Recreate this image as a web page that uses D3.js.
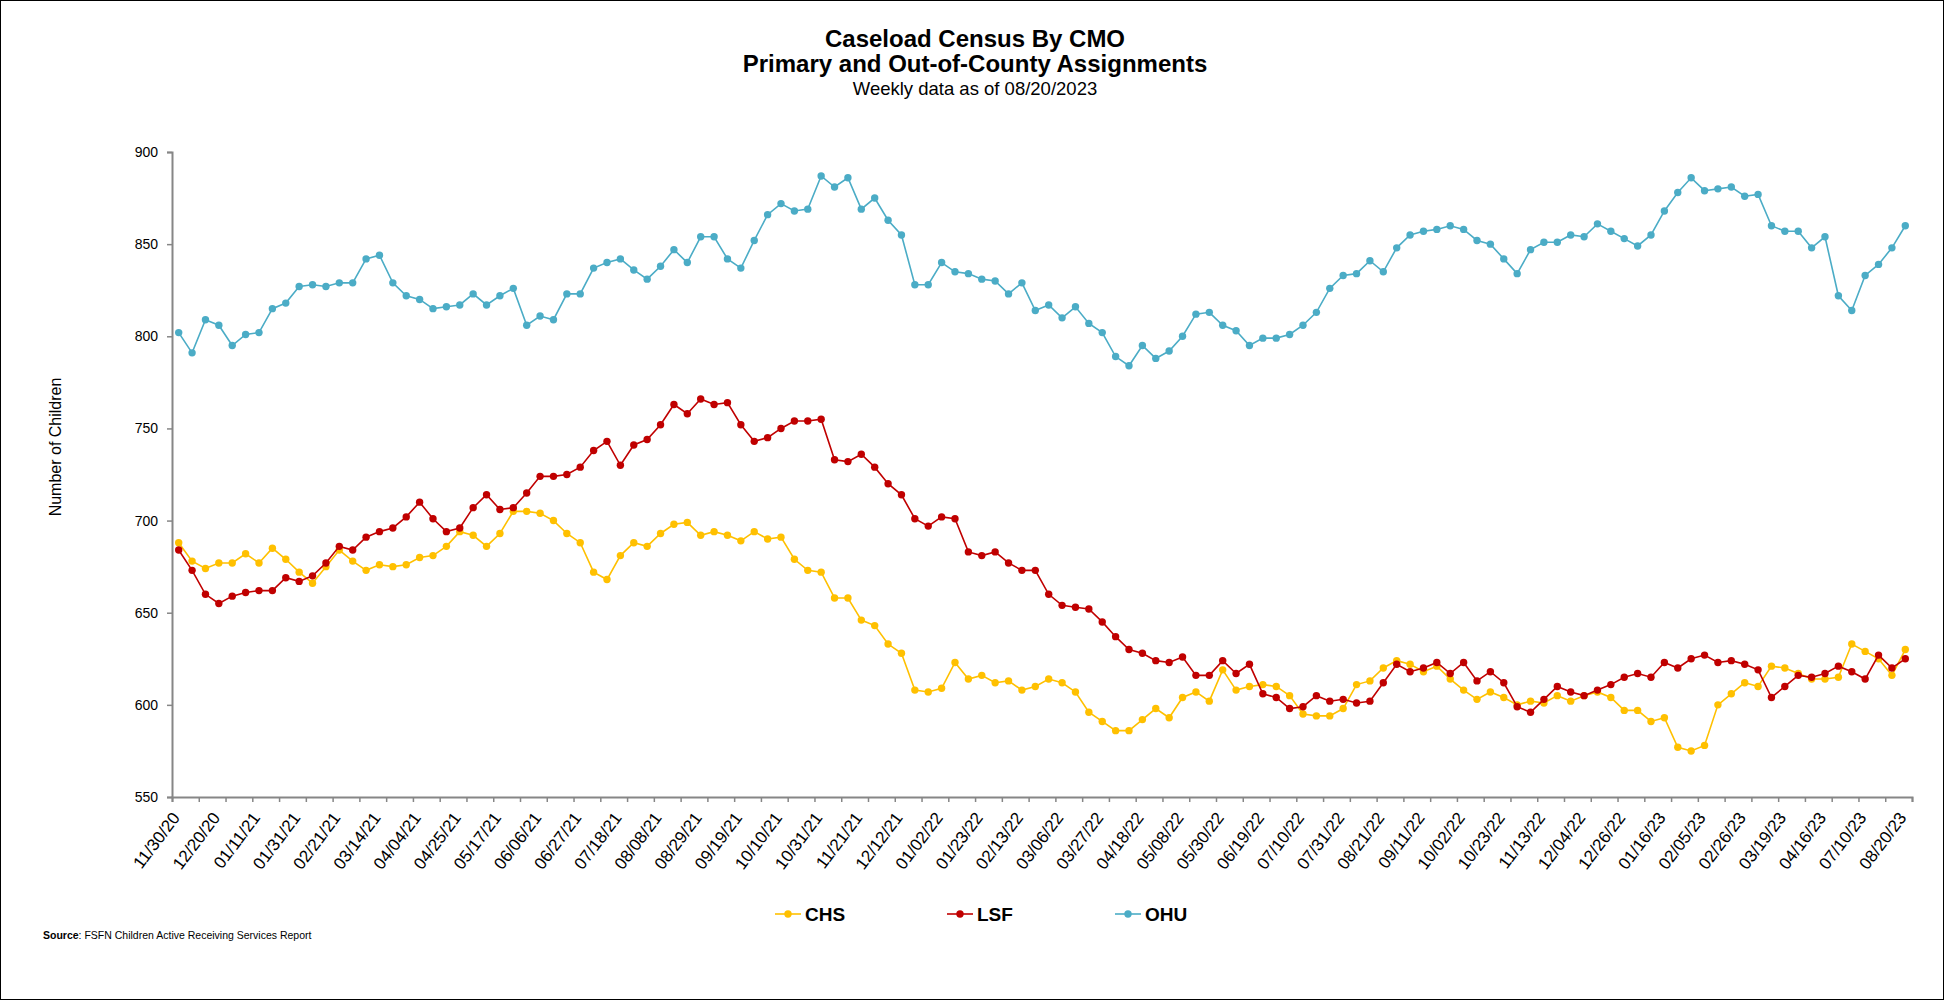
<!DOCTYPE html>
<meta charset="utf-8">

<!-- Load d3.js -->
<script src="https://d3js.org/d3.v7.min.js"></script>

<style>
  body { margin: 0; background: #fff; }
  text { font-family: Arial, "Liberation Sans", sans-serif; fill: #000; }
</style>

<svg id="chart" width="1957" height="1001"></svg>

<script>

    // Category labels (one every 3 weeks on the axis)
    const tickLabels = ["11/30/20","12/20/20","01/11/21","01/31/21","02/21/21","03/14/21","04/04/21","04/25/21",
      "05/17/21","06/06/21","06/27/21","07/18/21","08/08/21","08/29/21","09/19/21","10/10/21","10/31/21",
      "11/21/21","12/12/21","01/02/22","01/23/22","02/13/22","03/06/22","03/27/22","04/18/22","05/08/22",
      "05/30/22","06/19/22","07/10/22","07/31/22","08/21/22","09/11/22","10/02/22","10/23/22","11/13/22",
      "12/04/22","12/26/22","01/16/23","02/05/23","02/26/23","03/19/23","04/16/23","07/10/23","08/20/23"]

    // Weekly counts per CMO
    const chs = [688,678,674,677,677,682,677,685,679,672,666,675,684,678,673,676,675,676,680,681,686,694,
      692,686,693,705,705,704,700,693,688,672,668,681,688,686,693,698,699,692,694,692,689,694,
      690,691,679,673,672,658,658,646,643,633,628,608,607,609,623,614,616,612,613,608,610,614,
      612,607,596,591,586,586,592,598,593,604,607,602,619,608,610,611,610,605,595,594,594,
      598,611,613,620,624,622,618,621,614,608,603,607,604,600,602,601,605,602,605,607,604,597,
      597,591,593,577,575,578,600,606,612,610,621,620,617,614,614,615,633,629,625,616,630]

    const lsf = [684,673,660,655,659,661,662,662,669,667,670,677,686,684,691,694,696,702,710,701,694,696,
      707,714,706,707,715,724,724,725,729,738,743,730,741,744,752,763,758,766,763,764,752,743,
      745,750,754,754,755,733,732,736,729,720,714,701,697,702,701,683,681,683,677,673,673,660,
      654,653,652,645,637,630,628,624,623,626,616,616,624,617,622,606,604,598,599,605,602,
      603,601,602,612,622,618,620,623,617,623,613,618,612,599,596,603,610,607,605,608,611,615,
      617,615,623,620,625,627,623,624,622,619,604,610,616,615,617,621,618,614,627,620,625]

    const ohu = [802,791,809,806,795,801,802,815,818,827,828,827,829,829,842,844,829,822,820,815,816,817,
      823,817,822,826,806,811,809,823,823,837,840,842,836,831,838,847,840,854,854,842,837,852,
      866,872,868,869,887,881,886,869,875,863,855,828,828,840,835,834,831,830,823,829,814,817,
      810,816,807,802,789,784,795,788,792,800,812,813,806,803,795,799,799,801,806,813,826,
      833,834,841,835,848,855,857,858,860,858,852,850,842,834,847,851,851,855,854,861,857,853,
      849,855,868,878,886,879,880,881,876,877,860,857,857,848,854,822,814,833,839,848,860]

    const seriesNames = ["CHS", "LSF", "OHU"]
    const seriesColors = ["#FFC000", "#C00000", "#4BACC6"]
    const yTicks = [550, 600, 650, 700, 750, 800, 850, 900]

    const svg = d3.select("#chart")
    const plotLeft = 172, plotRight = 1912, plotTop = 152, plotBottom = 797
    const axisColor = "#868686"

    // outer frame
    svg.append("rect")
      .attr("x", 0.5).attr("y", 0.5)
      .attr("width", 1943).attr("height", 999)
      .attr("fill", "none").attr("stroke", "#000").attr("stroke-width", 1)

    // Titles
    svg.append("text").attr("x", 975).attr("y", 47).attr("text-anchor", "middle")
      .style("font-size", "24px").style("font-weight", "bold").text("Caseload Census By CMO")
    svg.append("text").attr("x", 975).attr("y", 72).attr("text-anchor", "middle")
      .style("font-size", "24px").style("font-weight", "bold").text("Primary and Out-of-County Assignments")
    svg.append("text").attr("x", 975).attr("y", 95).attr("text-anchor", "middle")
      .style("font-size", "18.5px").text("Weekly data as of 08/20/2023")

    // Scales
    const n = ohu.length
    const x = d3.scaleBand().domain(d3.range(n)).range([plotLeft, plotRight]).padding(0)
    const xEdge = d3.scaleLinear().domain([0, n]).range([plotLeft, plotRight])
    const y = d3.scaleLinear().domain([550, 900]).range([plotBottom, plotTop])
    const cx = i => x(i) + x.bandwidth() / 2

    // Y axis
    const yAxis = svg.append("g")
      .attr("transform", `translate(${plotLeft},0)`)
      .call(d3.axisLeft(y).tickValues(yTicks).tickSize(5).tickPadding(9))
    yAxis.select(".domain").attr("stroke", axisColor).attr("stroke-width", 2)
    yAxis.selectAll(".tick line").attr("stroke", axisColor).attr("stroke-width", 1.5)
    yAxis.selectAll(".tick text").style("font-size", "14px").attr("fill", "#000")
      .style("font-family", "Arial, 'Liberation Sans', sans-serif")

    svg.append("text")
      .attr("transform", `translate(61,447) rotate(-90)`)
      .attr("text-anchor", "middle")
      .style("font-size", "16px")
      .text("Number of Children")

    // X axis: tick marks every 2 weeks at category edges
    const xAxis = svg.append("g")
      .attr("transform", `translate(0,${plotBottom})`)
      .call(d3.axisBottom(xEdge).tickValues(d3.range(0, n + 1, 2)).tickSize(5).tickFormat(""))
    xAxis.select(".domain").attr("stroke", axisColor).attr("stroke-width", 2)
    xAxis.selectAll(".tick line").attr("stroke", axisColor).attr("stroke-width", 1.5)

    // X labels every 3 weeks, rotated
    svg.append("g").selectAll("text")
      .data(tickLabels)
      .enter()
      .append("text")
        .attr("transform", (d, i) => `translate(${cx(i * 3) + 2},${plotBottom + 21}) rotate(-53)`)
        .attr("text-anchor", "end")
        .style("font-size", "17px")
        .text(d => d)

    // Lines and markers
    const allSeries = [chs, lsf, ohu]
    const line = d3.line().x((d, i) => cx(i)).y(d => y(d))

    allSeries.forEach(function(vals, k) {
      const g = svg.append("g")
      g.append("path")
        .datum(vals)
        .attr("d", line)
        .attr("fill", "none")
        .attr("stroke", seriesColors[k])
        .attr("stroke-width", 1.6)
      g.selectAll("circle")
        .data(vals)
        .enter()
        .append("circle")
          .attr("cx", (d, i) => cx(i))
          .attr("cy", d => y(d))
          .attr("r", 3.7)
          .attr("fill", seriesColors[k])
    })

    // Legend
    const legendX = [788, 960, 1128]
    const legend = svg.append("g")
    seriesNames.forEach(function(name, k) {
      const lx = legendX[k], ly = 914
      legend.append("line")
        .attr("x1", lx - 13).attr("x2", lx + 13)
        .attr("y1", ly).attr("y2", ly)
        .attr("stroke", seriesColors[k]).attr("stroke-width", 1.6)
      legend.append("circle")
        .attr("cx", lx).attr("cy", ly).attr("r", 3.7)
        .attr("fill", seriesColors[k])
      legend.append("text")
        .attr("x", lx + 17).attr("y", ly)
        .attr("dy", "0.35em")
        .style("font-size", "19px").style("font-weight", "bold")
        .text(name)
    })

    // Source note
    const src = svg.append("text").attr("x", 43).attr("y", 939).style("font-size", "10.5px")
    src.append("tspan").style("font-weight", "bold").text("Source")
    src.append("tspan").text(":  FSFN Children Active Receiving Services Report")

</script>
